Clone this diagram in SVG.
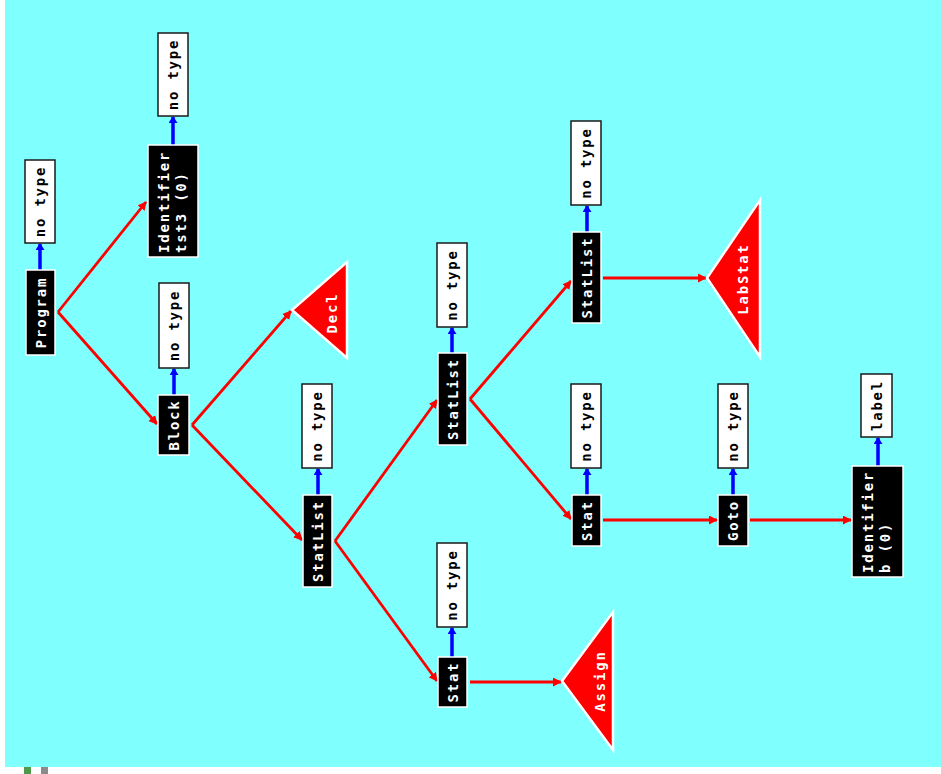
<svg xmlns="http://www.w3.org/2000/svg" width="941" height="774" viewBox="0 0 941 774">
  <style>
    .page { fill: #ffffff; }
    .bg { fill: #80ffff; }
    .nt rect { fill: #ffffff; stroke: #1a1a1a; stroke-width: 1.5; }
    .nd rect { fill: #000000; stroke: #ffffff; stroke-width: 1.5; }
    .tri polygon { fill: #ff0000; stroke: #ffffff; stroke-width: 2.5; stroke-linejoin: miter; }
    text { font-family: "DejaVu Sans Mono", "Liberation Mono", monospace; font-size: 14px; font-weight: bold; letter-spacing: 1.8px; dominant-baseline: central; }
    .nt text { fill: #000000; text-anchor: middle; }
    .nd text { fill: #ffffff; text-anchor: middle; }
    .nd text.l { text-anchor: start; }
    .tri text { fill: #ffffff; text-anchor: middle; }
    .e { stroke: #ff0000; stroke-width: 2.8; fill: none; marker-end: url(#ar); }
    .t { stroke: #0000ff; stroke-width: 3.5; fill: none; marker-end: url(#ab); }
  </style>
  <defs>
    <marker id="ar" markerUnits="userSpaceOnUse" markerWidth="12" markerHeight="12" refX="8" refY="4.5" orient="auto">
      <path d="M0,0 L9,4.5 L0,9 Z" fill="#ff0000"/>
    </marker>
    <marker id="ab" markerUnits="userSpaceOnUse" markerWidth="10" markerHeight="10" refX="6" refY="4.5" orient="auto">
      <path d="M0,0 L7,4.5 L0,9 Z" fill="#0000ff"/>
    </marker>
  </defs>

  <rect class="page" x="0" y="0" width="941" height="774"/>
  <rect class="bg" x="5" y="0" width="936" height="767"/>
  <rect x="24" y="767" width="7" height="7" fill="#4f9a4a"/>
  <rect x="41" y="767" width="7" height="7" fill="#8a8a8a"/>

  <!-- tree edges and type links -->
  <g id="connectors">
    <path class="e" d="M58,312 L146,202"/>
    <path class="e" d="M58,312 L157,424"/>
    <path class="e" d="M192,425 L291,311"/>
    <path class="e" d="M192,425 L302,540"/>
    <path class="e" d="M335,541 L437,400"/>
    <path class="e" d="M335,541 L437,681"/>
    <path class="e" d="M470,682 L561,682"/>
    <path class="e" d="M470,399 L571,281"/>
    <path class="e" d="M470,399 L571,519"/>
    <path class="e" d="M603,278 L706,278"/>
    <path class="e" d="M603,520 L717,520"/>
    <path class="e" d="M750,520 L851,520"/>

    <path class="t" d="M40,270 L40,244"/>
    <path class="t" d="M173,145 L173,117"/>
    <path class="t" d="M174,395 L174,369"/>
    <path class="t" d="M318,495 L318,469"/>
    <path class="t" d="M452,353 L452,328"/>
    <path class="t" d="M452,657 L452,628"/>
    <path class="t" d="M587,232 L587,206"/>
    <path class="t" d="M587,495 L587,469"/>
    <path class="t" d="M733,495 L733,469"/>
    <path class="t" d="M878,466 L878,438"/>
  </g>

  <!-- Program -->
  <g id="program" class="nd">
    <rect x="26" y="270" width="29" height="85"/>
    <text transform="translate(40.5,312.5) rotate(-90)">Program</text>
  </g>
  <g id="program-type" class="nt">
    <rect x="25" y="160" width="30" height="83"/>
    <text transform="translate(40,201.5) rotate(-90)">no type</text>
  </g>

  <!-- Identifier tst3 -->
  <g id="ident-tst3" class="nd">
    <rect x="148" y="145" width="50" height="112"/>
    <text class="l" transform="translate(164,253) rotate(-90)">Identifier</text>
    <text class="l" transform="translate(181,253) rotate(-90)">tst3 (0)</text>
  </g>
  <g id="ident-tst3-type" class="nt">
    <rect x="158" y="33" width="30" height="83"/>
    <text transform="translate(173,74.5) rotate(-90)">no type</text>
  </g>

  <!-- Block -->
  <g id="block" class="nd">
    <rect x="158" y="395" width="31" height="60"/>
    <text transform="translate(173.5,425) rotate(-90)">Block</text>
  </g>
  <g id="block-type" class="nt">
    <rect x="159" y="283" width="30" height="85"/>
    <text transform="translate(174,325.5) rotate(-90)">no type</text>
  </g>

  <!-- Decl -->
  <g id="decl" class="tri">
    <polygon points="292,310 347,262 347,358"/>
    <text transform="translate(332,313) rotate(-90)">Decl</text>
  </g>

  <!-- StatList (1) -->
  <g id="statlist-1" class="nd">
    <rect x="303" y="495" width="29" height="92"/>
    <text transform="translate(317.5,541) rotate(-90)">StatList</text>
  </g>
  <g id="statlist-1-type" class="nt">
    <rect x="302" y="384" width="30" height="84"/>
    <text transform="translate(317,426) rotate(-90)">no type</text>
  </g>

  <!-- StatList (2) -->
  <g id="statlist-2" class="nd">
    <rect x="438" y="353" width="29" height="92"/>
    <text transform="translate(452.5,399) rotate(-90)">StatList</text>
  </g>
  <g id="statlist-2-type" class="nt">
    <rect x="437" y="243" width="30" height="84"/>
    <text transform="translate(452,285) rotate(-90)">no type</text>
  </g>

  <!-- Stat (1) -->
  <g id="stat-1" class="nd">
    <rect x="438" y="657" width="29" height="50"/>
    <text transform="translate(452.5,682) rotate(-90)">Stat</text>
  </g>
  <g id="stat-1-type" class="nt">
    <rect x="437" y="543" width="30" height="84"/>
    <text transform="translate(452,585) rotate(-90)">no type</text>
  </g>

  <!-- Assign -->
  <g id="assign" class="tri">
    <polygon points="562,681 613,612 613,750"/>
    <text transform="translate(600,681) rotate(-90)">Assign</text>
  </g>

  <!-- StatList (3) -->
  <g id="statlist-3" class="nd">
    <rect x="572" y="232" width="29" height="91"/>
    <text transform="translate(586.5,277.5) rotate(-90)">StatList</text>
  </g>
  <g id="statlist-3-type" class="nt">
    <rect x="571" y="121" width="30" height="84"/>
    <text transform="translate(586,163) rotate(-90)">no type</text>
  </g>

  <!-- LabStat -->
  <g id="labstat" class="tri">
    <polygon points="707,278 760,200 760,357"/>
    <text transform="translate(743,279) rotate(-90)">LabStat</text>
  </g>

  <!-- Stat (2) -->
  <g id="stat-2" class="nd">
    <rect x="572" y="495" width="29" height="51"/>
    <text transform="translate(586.5,520.5) rotate(-90)">Stat</text>
  </g>
  <g id="stat-2-type" class="nt">
    <rect x="571" y="384" width="30" height="84"/>
    <text transform="translate(586,426) rotate(-90)">no type</text>
  </g>

  <!-- Goto -->
  <g id="goto" class="nd">
    <rect x="718" y="495" width="30" height="51"/>
    <text transform="translate(733,520.5) rotate(-90)">Goto</text>
  </g>
  <g id="goto-type" class="nt">
    <rect x="718" y="384" width="30" height="84"/>
    <text transform="translate(733,426) rotate(-90)">no type</text>
  </g>

  <!-- Identifier b -->
  <g id="ident-b" class="nd">
    <rect x="852" y="466" width="51" height="111"/>
    <text class="l" transform="translate(868,573) rotate(-90)">Identifier</text>
    <text class="l" transform="translate(885,573) rotate(-90)">b (0)</text>
  </g>
  <g id="ident-b-type" class="nt">
    <rect x="861" y="374" width="31" height="63"/>
    <text transform="translate(876.5,405.5) rotate(-90)">label</text>
  </g>
</svg>
